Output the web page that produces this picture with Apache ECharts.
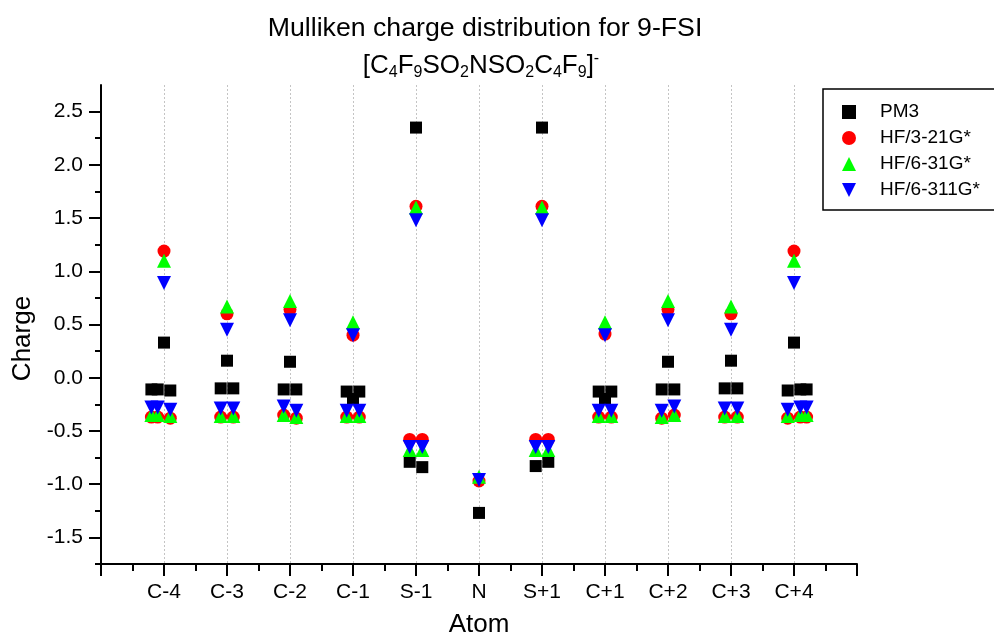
<!DOCTYPE html>
<html>
<head>
<meta charset="utf-8">
<script src="https://cdn.jsdelivr.net/npm/echarts@6/dist/echarts.min.js"></script>
<style>
html, body { margin: 0; padding: 0; background: #fff; }
#main { width: 994px; height: 637px; }
</style>
</head>
<body>
<div id="main"></div>
<script>
var FONT = '"Liberation Sans", Arial, sans-serif';

var atoms = ['C-4', 'C-3', 'C-2', 'C-1', 'S-1', 'N', 'S+1', 'C+1', 'C+2', 'C+3', 'C+4'];

// x of each atom = group index, F / O atoms sit slightly beside it
var atomX = [
    1, 0.8, 0.9, 1.1,
    2, 1.9, 2.1,
    3, 2.9, 3.1,
    4, 3.9, 4.1,
    5, 4.9, 5.1,
    6,
    7, 6.9, 7.1,
    8, 7.9, 8.1,
    9, 8.9, 9.1,
    10, 9.9, 10.1,
    11, 10.9, 11.1, 11.2
];

var pm3 = [
    0.33, -0.11, -0.11, -0.12,
    0.16, -0.10, -0.10,
    0.15, -0.11, -0.11,
    -0.20, -0.13, -0.13,
    2.35, -0.79, -0.84,
    -1.27,
    2.35, -0.83, -0.79,
    -0.20, -0.13, -0.13,
    0.15, -0.11, -0.11,
    0.16, -0.10, -0.10,
    0.33, -0.12, -0.11, -0.11
];

var hf321 = [
    1.19, -0.37, -0.37, -0.38,
    0.60, -0.37, -0.37,
    0.64, -0.35, -0.38,
    0.40, -0.37, -0.37,
    1.61, -0.58, -0.58,
    -0.97,
    1.61, -0.58, -0.58,
    0.41, -0.37, -0.37,
    0.64, -0.38, -0.35,
    0.60, -0.37, -0.37,
    1.19, -0.38, -0.37, -0.37
];

var hf631 = [
    1.10, -0.35, -0.35, -0.36,
    0.67, -0.36, -0.36,
    0.72, -0.35, -0.37,
    0.52, -0.36, -0.36,
    1.60, -0.68, -0.68,
    -0.93,
    1.60, -0.68, -0.68,
    0.52, -0.36, -0.36,
    0.72, -0.37, -0.35,
    0.67, -0.36, -0.36,
    1.10, -0.36, -0.35, -0.35
];

var hf6311 = [
    0.89, -0.28, -0.28, -0.30,
    0.45, -0.29, -0.29,
    0.54, -0.27, -0.31,
    0.40, -0.31, -0.31,
    1.48, -0.65, -0.65,
    -0.96,
    1.48, -0.65, -0.65,
    0.40, -0.31, -0.31,
    0.54, -0.31, -0.27,
    0.45, -0.29, -0.29,
    0.89, -0.30, -0.28, -0.28
];

var yMajor = [-1.5, -1.0, -0.5, 0, 0.5, 1.0, 1.5, 2.0, 2.5];
var yMinor = [-1.75, -1.25, -0.75, -0.25, 0.25, 0.75, 1.25, 1.75, 2.25];
var gridX = atoms.map(function (a, i) { return i + 1; });

var seriesDefs = [
    { name: 'PM3', values: pm3, symbol: 'rect', size: 12, color: '#000000', rotate: 0, icon: 'rect' },
    { name: 'HF/3-21G*', values: hf321, symbol: 'circle', size: 13, color: '#ff0000', rotate: 0, icon: 'circle' },
    { name: 'HF/6-31G*', values: hf631, symbol: 'triangle', size: 14, color: '#00ff00', rotate: 0, icon: 'triangle' },
    { name: 'HF/6-311G*', values: hf6311, symbol: 'triangle', size: 14, color: '#0000ff', rotate: 180, icon: 'path://M0,0L10,0L5,10Z' }
];

function toPoints(vals) {
    return vals.map(function (v, i) { return [atomX[i], v]; });
}

var myChart = echarts.init(document.getElementById('main'));

var option = {
    animation: false,
    backgroundColor: '#fff',
    title: [{
        text: 'Mulliken charge distribution for 9-FSI',
        left: 485,
        top: 14,
        textAlign: 'center',
        padding: 0,
        textStyle: { fontSize: 26.7, fontWeight: 'normal', color: '#000', fontFamily: FONT, lineHeight: 30 }
    }, {
        text: '{n|[C}{s|4}{n|F}{s|9}{n|SO}{s|2}{n|NSO}{s|2}{n|C}{s|4}{n|F}{s|9}{n|]}{p|-}',
        left: 481,
        top: 51,
        textAlign: 'center',
        padding: 0,
        textStyle: {
            fontFamily: FONT,
            fontWeight: 'normal',
            rich: {
                n: { fontSize: 26, fontWeight: 'normal', color: '#000', fontFamily: FONT, lineHeight: 30 },
                s: { fontSize: 16, fontWeight: 'normal', color: '#000', fontFamily: FONT, lineHeight: 12, verticalAlign: 'bottom' },
                p: { fontSize: 16, fontWeight: 'normal', color: '#000', fontFamily: FONT, lineHeight: 12, verticalAlign: 'top' }
            }
        }
    }],
    legend: {
        orient: 'vertical',
        left: 823,
        top: 89,
        padding: [13, 70, 10, 19],
        itemWidth: 14,
        itemHeight: 14,
        itemGap: 6,
        borderColor: '#000',
        borderWidth: 1.5,
        textStyle: { fontSize: 19, color: '#000', fontFamily: FONT, lineHeight: 20, padding: [0, 0, 0, 19] },
        data: seriesDefs.map(function (s) { return { name: s.name, icon: s.icon }; })
    },
    grid: {
        left: 101,
        right: 137,
        top: 85,
        bottom: 73,
        outerBoundsMode: 'none'
    },
    xAxis: [{
        type: 'value',
        position: 'bottom',
        min: 0,
        max: 12,
        interval: 1,
        name: 'Atom',
        nameLocation: 'middle',
        nameGap: 48,
        nameTextStyle: { fontSize: 26, color: '#000', fontFamily: FONT },
        axisLine: { show: true, onZero: false, lineStyle: { color: '#000', width: 2 } },
        axisTick: { show: true, inside: false, length: 12, lineStyle: { color: '#000', width: 2 } },
        minorTick: { show: true, splitNumber: 2, length: 7, lineStyle: { color: '#000', width: 2 } },
        axisLabel: {
            fontSize: 21, color: '#000', fontFamily: FONT, margin: 18,
            formatter: function (v) { return atoms[Math.round(v) - 1] || ''; }
        },
        splitLine: { show: false }
    }, {
        // dotted guide lines at each atom
        type: 'value',
        position: 'bottom',
        min: 0,
        max: 12,
        axisLine: { show: false },
        axisLabel: { show: false },
        axisTick: { show: false, customValues: gridX },
        splitLine: { show: true, lineStyle: { color: '#c4c4c4', width: 1, type: [2, 2] } }
    }],
    yAxis: [{
        type: 'value',
        position: 'left',
        min: -1.75,
        max: 2.75,
        name: 'Charge',
        nameLocation: 'middle',
        nameGap: 63,
        nameTextStyle: { fontSize: 26, color: '#000', fontFamily: FONT, padding: [0, 28, 0, 0] },
        axisLine: { show: true, onZero: false, lineStyle: { color: '#000', width: 2 } },
        axisTick: { show: true, inside: false, length: 12, customValues: yMajor, lineStyle: { color: '#000', width: 2 } },
        axisLabel: {
            fontSize: 21, color: '#000', fontFamily: FONT, margin: 18, customValues: yMajor,
            formatter: function (v) { return v.toFixed(1); }
        },
        splitLine: { show: false }
    }, {
        type: 'value',
        position: 'left',
        min: -1.75,
        max: 2.75,
        axisLine: { show: false },
        axisLabel: { show: false },
        axisTick: { show: true, inside: false, length: 6, customValues: yMinor, lineStyle: { color: '#000', width: 2 } },
        splitLine: { show: false }
    }],
    series: seriesDefs.map(function (s) {
        return {
            type: 'scatter',
            name: s.name,
            symbol: s.symbol,
            symbolSize: s.size,
            symbolRotate: s.rotate,
            itemStyle: { color: s.color, opacity: 1 },
            data: toPoints(s.values)
        };
    })
};

myChart.setOption(option);
</script>
</body>
</html>
